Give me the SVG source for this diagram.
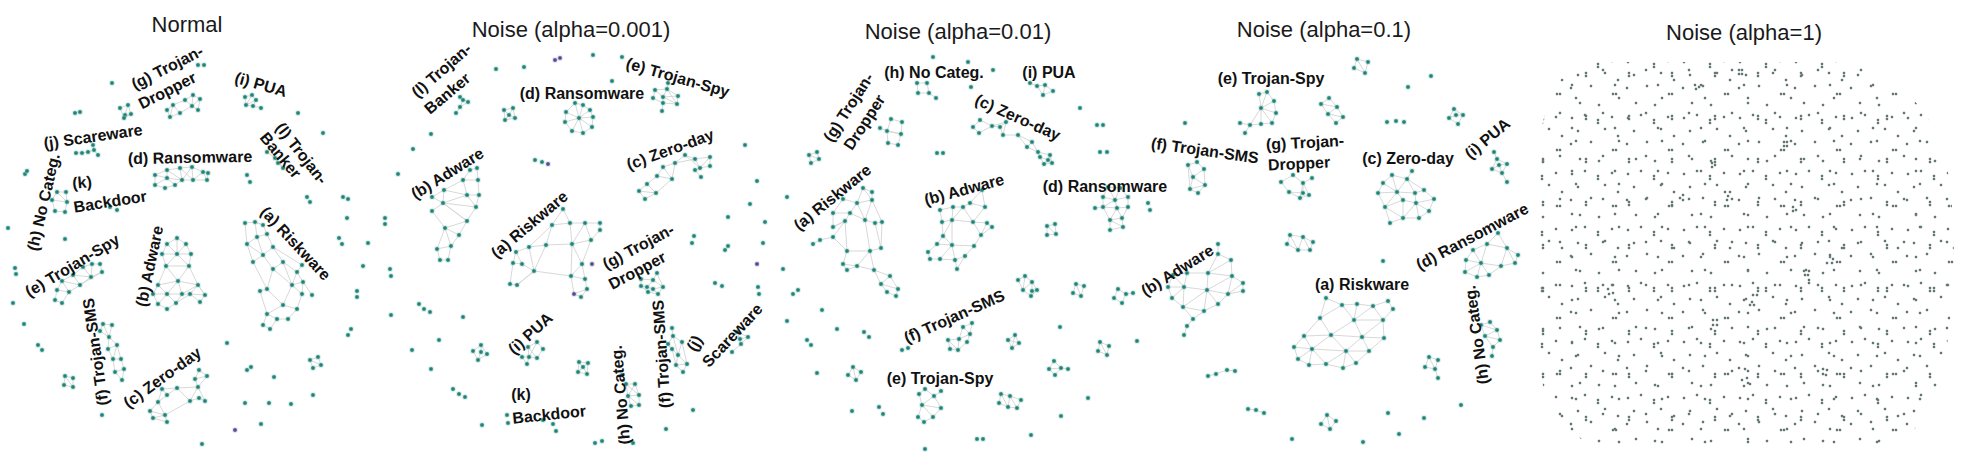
<svg xmlns="http://www.w3.org/2000/svg" width="1961" height="463" viewBox="0 0 1961 463">
<style>
.t{font-family:"Liberation Sans",Arial,sans-serif;font-size:22px;fill:#1a1a1a;text-anchor:middle}
.l{font-family:"Liberation Sans",Arial,sans-serif;font-size:16px;font-weight:bold;fill:#111;text-anchor:middle}
.e path{fill:none;stroke:#d4d4d4;stroke-width:0.9}
.n circle{r:2;fill:#1b7c71;stroke:#7cc4ba;stroke-opacity:.28;stroke-width:2.2}
.n circle.v{fill:#4a4488;stroke:#a9a4d6}
.d circle{r:1.25;fill:#4f6361;stroke:#9fb3b0;stroke-opacity:.3;stroke-width:1}
</style>
<defs>
<pattern id="pA" patternUnits="userSpaceOnUse" width="56" height="56">
<g class="d"><circle cx="4" cy="6"/><circle cx="17" cy="3"/><circle cx="30" cy="8"/><circle cx="30" cy="11"/><circle cx="44" cy="5"/><circle cx="10" cy="19"/><circle cx="37" cy="17"/><circle cx="50" cy="24"/><circle cx="3" cy="32"/><circle cx="23" cy="30"/><circle cx="45" cy="38"/><circle cx="48" cy="38"/><circle cx="12" cy="47"/><circle cx="31" cy="49"/></g>
</pattern>
<pattern id="pB" patternUnits="userSpaceOnUse" width="43" height="43" x="7" y="3">
<g class="d"><circle cx="21" cy="9"/><circle cx="5" cy="24"/><circle cx="31" cy="27"/><circle cx="31" cy="30"/><circle cx="17" cy="39"/></g>
</pattern>
</defs>
<rect width="1961" height="463" fill="#fff"/>

<!-- titles -->
<g id="titles">
<text class="t" x="187" y="32">Normal</text>
<text class="t" x="571" y="37">Noise (alpha=0.001)</text>
<text class="t" x="958" y="39">Noise (alpha=0.01)</text>
<text class="t" x="1324" y="37">Noise (alpha=0.1)</text>
<text class="t" x="1744" y="40">Noise (alpha=1)</text>
</g>

<!-- ================= PANEL 1 : Normal ================= -->
<g id="p1-edges" class="e">
<path d="M173,105L185,100L193,95L200,99L192,106L198,110M185,100L192,106L193,95M200,99L198,110M173,105L180,113L192,106M180,113L170,117L167,110L173,105L170,117"/>
<path d="M120,108L128,105L131,114L124,118L120,108M128,105L125,115L131,114M125,115L124,118"/>
<path d="M245,97L252,95L256,100L246,105L245,97M252,95L246,105M256,100L253,106L261,108M246,105L253,106"/>
<path d="M76,153L82,153L88,152L94,150L98,155M94,150L93,145"/>
<path d="M155,175L167,170L180,168L192,167L203,172L208,173L207,180L193,180L182,180L175,185L165,188L155,185L155,175M167,170L167,178L155,185M155,175L167,178L175,185M167,178L182,180L180,168M167,170L182,180M192,167L193,180L203,172L207,180M180,168L193,180M192,167L182,180"/>
<path d="M57,192L66,192L67,202L65,212L55,211L52,200L57,192M52,200L67,202M57,192L67,202"/>
<path d="M267,152L275,158L278,163L283,168M275,158L283,168"/>
<path d="M245,223L255,222L263,225M245,223L247,244L257,237L267,234L263,225L255,222L257,237M247,244L263,255L257,237M267,234L273,247L263,255L253,262L247,244M273,247L283,262L273,269L263,255M273,247L302,265L297,272L283,262M253,262L267,289L273,269M283,262L292,285L297,272L303,282L292,285L302,294L303,282M267,289L260,291L267,314L283,305L292,285M283,305L297,309L302,294M267,314L277,319L288,319L297,309M267,314L263,325L270,329L277,319M267,289L283,305M303,282L312,295M273,269L292,285"/>
<path d="M177,238L167,244L162,254L166,266L158,285L153,294L158,304L167,309L176,303L190,294L200,302L205,295L198,285L189,266L191,254L186,244L177,238L177,254L162,254M167,244L177,254L186,244M177,254L191,254M177,254L166,266L178,281L189,266L177,254M166,266L189,266M178,281L158,285L167,294L178,281L182,294L198,285L178,281M153,294L167,294L182,294L190,294L198,285M167,294L158,304M167,294L176,303L182,294M190,294L205,295M198,285L205,295"/>
<path d="M92,264L100,264L102,272L91,277L83,267L92,264L91,277M83,267L73,275L62,281L57,290L55,300L62,303L69,292L80,285L91,277M73,275L80,285L62,281L69,292L57,290M102,272L80,285M73,275L91,277"/>
<path d="M103,324L112,325L109,337L100,331L103,324L109,337L117,345L108,349L109,337M108,349L113,359L117,345L121,359L113,359L115,372L124,369L121,359M115,372L122,380L124,369"/>
<path d="M199,370L207,376L195,379L199,370M195,379L198,387L207,376M198,387L177,388L162,389L167,395L158,402L150,411L153,418L167,422L165,415L158,402M177,388L167,395M198,387L190,401L199,398L205,401L198,387M190,401L165,415M150,411L165,415M153,418L165,415M162,389L158,402M177,388L190,401"/>
<path d="M65,376L73,378L73,387L64,385L65,376L73,387"/>
<path d="M310,360L318,357L321,365L313,368L310,360L321,365"/>
</g>
<g id="p1-nodes" class="n">
<g id="p1-dropper"><circle cx="173" cy="105"/><circle cx="185" cy="100"/><circle cx="193" cy="95"/><circle cx="200" cy="99"/><circle cx="192" cy="106"/><circle cx="198" cy="110"/><circle cx="180" cy="113"/><circle cx="170" cy="117"/><circle cx="167" cy="110"/></g>
<g id="p1-small1"><circle cx="120" cy="108"/><circle cx="128" cy="105"/><circle cx="125" cy="115"/><circle cx="131" cy="114"/><circle cx="124" cy="118"/></g>
<g id="p1-pua"><circle cx="245" cy="97"/><circle cx="252" cy="95"/><circle cx="256" cy="100"/><circle cx="246" cy="105"/><circle cx="253" cy="106"/><circle cx="261" cy="108"/></g>
<g id="p1-scareware"><circle cx="76" cy="153"/><circle cx="82" cy="153"/><circle cx="88" cy="152"/><circle cx="94" cy="150"/><circle cx="98" cy="155"/><circle cx="93" cy="145"/></g>
<g id="p1-ransomware"><circle cx="155" cy="175"/><circle cx="167" cy="170"/><circle cx="180" cy="168"/><circle cx="192" cy="167"/><circle cx="203" cy="172"/><circle cx="208" cy="173"/><circle cx="193" cy="180"/><circle cx="207" cy="180"/><circle cx="167" cy="178"/><circle cx="155" cy="185"/><circle cx="165" cy="188"/><circle cx="175" cy="185"/><circle cx="182" cy="180"/></g>
<g id="p1-backdoor"><circle cx="57" cy="192"/><circle cx="66" cy="192"/><circle cx="52" cy="200"/><circle cx="67" cy="202"/><circle cx="55" cy="211"/><circle cx="65" cy="212"/></g>
<g id="p1-banker"><circle cx="267" cy="152"/><circle cx="275" cy="158"/><circle cx="278" cy="163"/><circle cx="283" cy="168"/></g>
<g id="p1-riskware"><circle cx="245" cy="223"/><circle cx="255" cy="222"/><circle cx="263" cy="225"/><circle cx="247" cy="244"/><circle cx="257" cy="237"/><circle cx="267" cy="234"/><circle cx="273" cy="247"/><circle cx="263" cy="255"/><circle cx="253" cy="262"/><circle cx="273" cy="269"/><circle cx="283" cy="262"/><circle cx="297" cy="272"/><circle cx="303" cy="282"/><circle cx="292" cy="285"/><circle cx="302" cy="294"/><circle cx="267" cy="289"/><circle cx="260" cy="291"/><circle cx="283" cy="305"/><circle cx="297" cy="309"/><circle cx="267" cy="314"/><circle cx="277" cy="319"/><circle cx="288" cy="319"/><circle cx="263" cy="325"/><circle cx="270" cy="329"/><circle cx="312" cy="295"/><circle cx="302" cy="265"/></g>
<g id="p1-adware"><circle cx="177" cy="238"/><circle cx="167" cy="244"/><circle cx="186" cy="244"/><circle cx="162" cy="254"/><circle cx="177" cy="254"/><circle cx="191" cy="254"/><circle cx="166" cy="266"/><circle cx="189" cy="266"/><circle cx="158" cy="285"/><circle cx="178" cy="281"/><circle cx="198" cy="285"/><circle cx="153" cy="294"/><circle cx="167" cy="294"/><circle cx="182" cy="294"/><circle cx="190" cy="294"/><circle cx="205" cy="295"/><circle cx="158" cy="304"/><circle cx="176" cy="303"/><circle cx="167" cy="309"/><circle cx="200" cy="302"/></g>
<g id="p1-spy"><circle cx="92" cy="264"/><circle cx="100" cy="264"/><circle cx="83" cy="267"/><circle cx="102" cy="272"/><circle cx="73" cy="275"/><circle cx="91" cy="277"/><circle cx="62" cy="281"/><circle cx="80" cy="285"/><circle cx="57" cy="290"/><circle cx="69" cy="292"/><circle cx="55" cy="300"/><circle cx="62" cy="303"/></g>
<g id="p1-sms"><circle cx="103" cy="324"/><circle cx="112" cy="325"/><circle cx="100" cy="331"/><circle cx="109" cy="337"/><circle cx="117" cy="345"/><circle cx="108" cy="349"/><circle cx="113" cy="359"/><circle cx="121" cy="359"/><circle cx="115" cy="372"/><circle cx="124" cy="369"/><circle cx="122" cy="380"/></g>
<g id="p1-zeroday"><circle cx="199" cy="370"/><circle cx="207" cy="376"/><circle cx="195" cy="379"/><circle cx="198" cy="387"/><circle cx="177" cy="388"/><circle cx="162" cy="389"/><circle cx="167" cy="395"/><circle cx="190" cy="401"/><circle cx="199" cy="398"/><circle cx="205" cy="401"/><circle cx="158" cy="402"/><circle cx="150" cy="411"/><circle cx="165" cy="415"/><circle cx="153" cy="418"/><circle cx="167" cy="422"/></g>
<g id="p1-small2"><circle cx="65" cy="376"/><circle cx="73" cy="378"/><circle cx="64" cy="385"/><circle cx="73" cy="387"/></g>
<g id="p1-small3"><circle cx="310" cy="360"/><circle cx="318" cy="357"/><circle cx="321" cy="365"/><circle cx="313" cy="368"/></g>
<g id="p1-singles"><circle cx="112" cy="83"/><circle cx="75" cy="113"/><circle cx="80" cy="112"/><circle cx="198" cy="65"/><circle cx="204" cy="65"/><circle cx="298" cy="113"/><circle cx="323" cy="133"/><circle cx="247" cy="175"/><circle cx="250" cy="182"/><circle cx="307" cy="197"/><circle cx="310" cy="202"/><circle cx="343" cy="197"/><circle cx="348" cy="199"/><circle cx="347" cy="218"/><circle cx="25" cy="174"/><circle cx="27" cy="171"/><circle cx="8" cy="228"/><circle cx="65" cy="239"/><circle cx="15" cy="268"/><circle cx="16" cy="274"/><circle cx="13" cy="303"/><circle cx="24" cy="324"/><circle cx="38" cy="345"/><circle cx="42" cy="350"/><circle cx="102" cy="415"/><circle cx="227" cy="343"/><circle cx="247" cy="370"/><circle cx="251" cy="367"/><circle cx="274" cy="377"/><circle cx="245" cy="403"/><circle cx="269" cy="403"/><circle cx="291" cy="404"/><circle cx="313" cy="395"/><circle cx="261" cy="424"/><circle cx="235" cy="430" class="v"/><circle cx="202" cy="444"/><circle cx="339" cy="238"/><circle cx="342" cy="244"/><circle cx="368" cy="243"/><circle cx="363" cy="266"/><circle cx="357" cy="291"/><circle cx="357" cy="297"/><circle cx="351" cy="329"/><circle cx="348" cy="335"/><circle cx="110" cy="207"/><circle cx="117" cy="210"/></g>
</g>
<g id="p1-labels">
<text class="l" transform="translate(167,67) rotate(-27)" y="6">(g) Trojan-</text>
<text class="l" transform="translate(167,90) rotate(-27)" y="6">Dropper</text>
<text class="l" transform="translate(261,84) rotate(16)" y="6">(i) PUA</text>
<text class="l" transform="translate(302,153) rotate(52)" y="6">(l) Trojan-</text>
<text class="l" transform="translate(281,155) rotate(50)" y="6">Banker</text>
<text class="l" transform="translate(93,136) rotate(-8)" y="6">(j) Scareware</text>
<text class="l" transform="translate(190,157) rotate(-1)" y="6">(d) Ransomware</text>
<text class="l" transform="translate(43,202) rotate(-77)" y="6">(h) No Categ.</text>
<text class="l" transform="translate(82,182) rotate(-5)" y="6">(k)</text>
<text class="l" transform="translate(110,201) rotate(-9)" y="6">Backdoor</text>
<text class="l" transform="translate(296,243) rotate(47)" y="6">(a) Riskware</text>
<text class="l" transform="translate(72,265) rotate(-31)" y="6">(e) Trojan-Spy</text>
<text class="l" transform="translate(149,266) rotate(-78)" y="6">(b) Adware</text>
<text class="l" transform="translate(95,352) rotate(-98)" y="6">(f) Trojan-SMS</text>
<text class="l" transform="translate(162,377) rotate(-36)" y="6">(c) Zero-day</text>
</g>

<!-- ================= PANEL 2 : alpha=0.001 ================= -->
<g id="p2-edges" class="e">
<path d="M460,97L468,102L460,107L456,113M460,97L463,100L460,107"/>
<path d="M504,110L513,108L515,118L505,120L504,110M504,110L509,115L515,118M513,108L509,115L505,120"/>
<path d="M575,103L583,105L590,110L593,117L592,127L583,133L572,131L565,122L566,112L575,103M579,118L575,103M579,118L590,110M579,118L593,117M579,118L583,133M579,118L565,122M579,118L566,112M579,118L592,127M579,118L572,131M579,118L583,105"/>
<path d="M655,90L667,89L678,96L677,104L663,103L653,98L655,90L663,97L667,89M668,83L667,89M663,97L678,96M663,97L663,103L662,111M667,89L677,104M663,97L677,104"/>
<path d="M685,155L695,159L710,157L710,166L700,168L695,159M685,155L675,163L663,167L657,176L647,184L639,191L645,199L656,193L647,184M675,163L672,179L657,176M663,167L672,179M685,155L700,168M695,159L675,163M695,170L701,177M700,168L695,170M656,193L639,191M672,179L656,193M710,157L700,168"/>
<path d="M477,168L470,170L463,180L478,180L477,168M463,180L444,190L432,197L443,203L444,190L467,195L463,180M467,195L479,195L478,180M443,203L432,211L445,228L467,221L476,207L479,195M443,203L467,195L476,207L443,203L467,221L443,203M445,228L437,249L451,246L459,235L467,221M445,228L451,246M437,249L440,260L448,260L451,246M445,228L459,235"/>
<path d="M563,209L552,225L570,223L563,209M570,223L585,223L600,223L600,230M552,225L546,245L529,247L516,252L513,263L510,284L517,285L534,271L522,264L513,263M546,245L572,244L591,240L600,230M570,223L572,244L585,223L591,240M529,247L534,271L546,245M522,264L516,252M534,271L571,276L572,244M571,276L582,264L591,240M582,264L585,279L571,276L574,294L587,289L585,279M574,294L581,297L587,289M517,285L534,271M552,225L529,247M572,244L582,264"/>
<path d="M473,351L481,345L487,354L478,360L473,351M481,345L481,352L478,360"/>
<path d="M528,347L537,342L543,349L537,358L529,357L522,357L527,364L529,357L528,347L537,358M537,342L529,357"/>
<path d="M579,362L588,363L587,374L578,372L579,362M579,362L583,367L587,374M588,363L583,367L578,372"/>
<path d="M622,375L626,384L635,384L639,395L628,396L626,384M635,384L628,396L631,406L639,405L639,395M628,396L639,405M626,384L639,395"/>
<path d="M657,273L653,280L641,279L641,286L648,292L658,294L663,287L653,280L647,287L641,286M647,287L653,289L658,294M653,289L663,287M657,273L663,287"/>
<path d="M672,328L673,336L682,342L678,355L672,349L668,344L673,336M673,336L678,355L687,364L683,372L676,365L678,355M676,365L687,364M682,342L687,364M672,349L676,365"/>
<path d="M737,332L748,337L741,344L732,352M737,332L740,339L741,344M740,339L748,337"/>
</g>
<g id="p2-nodes" class="n">
<g id="p2-banker"><circle cx="460" cy="97"/><circle cx="468" cy="102"/><circle cx="460" cy="107"/><circle cx="456" cy="113"/><circle cx="463" cy="100"/></g>
<g id="p2-small1"><circle cx="504" cy="110"/><circle cx="513" cy="108"/><circle cx="505" cy="120"/><circle cx="515" cy="118"/><circle cx="509" cy="115"/></g>
<g id="p2-ransomware"><circle cx="575" cy="103"/><circle cx="583" cy="105"/><circle cx="590" cy="110"/><circle cx="593" cy="117"/><circle cx="592" cy="127"/><circle cx="583" cy="133"/><circle cx="572" cy="131"/><circle cx="565" cy="122"/><circle cx="566" cy="112"/><circle cx="579" cy="118"/></g>
<g id="p2-spy"><circle cx="655" cy="90"/><circle cx="667" cy="89"/><circle cx="668" cy="83"/><circle cx="678" cy="96"/><circle cx="663" cy="97"/><circle cx="653" cy="98"/><circle cx="663" cy="103"/><circle cx="677" cy="104"/><circle cx="662" cy="111"/></g>
<g id="p2-zeroday"><circle cx="685" cy="155"/><circle cx="710" cy="157"/><circle cx="695" cy="159"/><circle cx="710" cy="166"/><circle cx="700" cy="168"/><circle cx="675" cy="163"/><circle cx="663" cy="167"/><circle cx="657" cy="176"/><circle cx="672" cy="179"/><circle cx="647" cy="184"/><circle cx="656" cy="193"/><circle cx="639" cy="191"/><circle cx="645" cy="199"/><circle cx="701" cy="177"/><circle cx="695" cy="170"/></g>
<g id="p2-adware"><circle cx="477" cy="168"/><circle cx="470" cy="170"/><circle cx="463" cy="180"/><circle cx="478" cy="180"/><circle cx="444" cy="190"/><circle cx="467" cy="195"/><circle cx="479" cy="195"/><circle cx="432" cy="197"/><circle cx="443" cy="203"/><circle cx="476" cy="207"/><circle cx="432" cy="211"/><circle cx="467" cy="221"/><circle cx="445" cy="228"/><circle cx="437" cy="249"/><circle cx="451" cy="246"/><circle cx="459" cy="235"/><circle cx="440" cy="260"/><circle cx="448" cy="260"/></g>
<g id="p2-riskware"><circle cx="563" cy="209"/><circle cx="552" cy="225"/><circle cx="570" cy="223"/><circle cx="585" cy="223"/><circle cx="600" cy="223"/><circle cx="600" cy="230"/><circle cx="529" cy="247"/><circle cx="546" cy="245"/><circle cx="572" cy="244"/><circle cx="591" cy="240"/><circle cx="516" cy="252"/><circle cx="513" cy="263"/><circle cx="522" cy="264"/><circle cx="534" cy="271"/><circle cx="510" cy="284"/><circle cx="517" cy="285"/><circle cx="571" cy="276"/><circle cx="582" cy="264"/><circle cx="585" cy="279"/><circle cx="587" cy="289"/><circle cx="574" cy="294" class="v"/><circle cx="581" cy="297"/></g>
<g id="p2-small2"><circle cx="473" cy="351"/><circle cx="481" cy="345"/><circle cx="487" cy="354"/><circle cx="478" cy="360"/><circle cx="481" cy="352"/></g>
<g id="p2-pua"><circle cx="528" cy="347"/><circle cx="537" cy="342"/><circle cx="543" cy="349"/><circle cx="522" cy="357"/><circle cx="529" cy="357"/><circle cx="537" cy="358"/><circle cx="527" cy="364"/></g>
<g id="p2-small3"><circle cx="579" cy="362"/><circle cx="588" cy="363"/><circle cx="578" cy="372"/><circle cx="587" cy="374"/><circle cx="583" cy="367"/></g>
<g id="p2-nocateg"><circle cx="622" cy="375"/><circle cx="626" cy="384"/><circle cx="635" cy="384"/><circle cx="639" cy="395"/><circle cx="628" cy="396"/><circle cx="631" cy="406"/><circle cx="639" cy="405"/></g>
<g id="p2-dropper"><circle cx="657" cy="273"/><circle cx="641" cy="279"/><circle cx="653" cy="280"/><circle cx="647" cy="287"/><circle cx="663" cy="287"/><circle cx="641" cy="286"/><circle cx="648" cy="292"/><circle cx="658" cy="294"/><circle cx="653" cy="289"/></g>
<g id="p2-sms"><circle cx="672" cy="328"/><circle cx="673" cy="336"/><circle cx="682" cy="342"/><circle cx="668" cy="344"/><circle cx="678" cy="355"/><circle cx="687" cy="364"/><circle cx="676" cy="365"/><circle cx="683" cy="372"/><circle cx="672" cy="349"/></g>
<g id="p2-scareware"><circle cx="737" cy="332"/><circle cx="748" cy="337"/><circle cx="741" cy="344"/><circle cx="732" cy="352"/><circle cx="740" cy="339"/></g>
<g id="p2-singles"><circle cx="496" cy="69"/><circle cx="524" cy="67"/><circle cx="555" cy="60" class="v"/><circle cx="560" cy="58" class="v"/><circle cx="593" cy="55"/><circle cx="622" cy="57"/><circle cx="612" cy="81"/><circle cx="431" cy="134"/><circle cx="413" cy="149"/><circle cx="535" cy="160"/><circle cx="542" cy="162"/><circle cx="548" cy="164" class="v"/><circle cx="398" cy="174"/><circle cx="385" cy="218"/><circle cx="385" cy="224"/><circle cx="745" cy="145"/><circle cx="757" cy="181"/><circle cx="750" cy="204"/><circle cx="728" cy="217"/><circle cx="765" cy="222"/><circle cx="390" cy="269"/><circle cx="391" cy="276"/><circle cx="419" cy="304"/><circle cx="424" cy="309"/><circle cx="430" cy="312"/><circle cx="391" cy="315"/><circle cx="463" cy="317"/><circle cx="439" cy="340"/><circle cx="412" cy="350"/><circle cx="431" cy="369"/><circle cx="453" cy="389"/><circle cx="459" cy="394"/><circle cx="465" cy="397"/><circle cx="482" cy="425"/><circle cx="507" cy="415"/><circle cx="508" cy="423"/><circle cx="543" cy="420"/><circle cx="553" cy="424"/><circle cx="556" cy="431"/><circle cx="595" cy="443"/><circle cx="602" cy="441"/><circle cx="633" cy="443"/><circle cx="715" cy="283"/><circle cx="722" cy="286"/><circle cx="758" cy="287"/><circle cx="759" cy="294"/><circle cx="694" cy="236"/><circle cx="692" cy="243"/><circle cx="728" cy="246"/><circle cx="725" cy="250"/><circle cx="757" cy="264" class="v"/><circle cx="763" cy="243"/><circle cx="693" cy="410"/><circle cx="666" cy="429"/><circle cx="592" cy="264" class="v"/></g>
</g>
<g id="p2-labels">
<text class="l" transform="translate(441,70) rotate(-41)" y="6">(l) Trojan-</text>
<text class="l" transform="translate(447,93) rotate(-40)" y="6">Banker</text>
<text class="l" transform="translate(678,77) rotate(16)" y="6">(e) Trojan-Spy</text>
<text class="l" transform="translate(582,93)" y="6">(d) Ransomware</text>
<text class="l" transform="translate(447,173) rotate(-32)" y="6">(b) Adware</text>
<text class="l" transform="translate(670,149) rotate(-20)" y="6">(c) Zero-day</text>
<text class="l" transform="translate(529,224) rotate(-40)" y="6">(a) Riskware</text>
<text class="l" transform="translate(638,246) rotate(-28)" y="6">(g) Trojan-</text>
<text class="l" transform="translate(637,270) rotate(-28)" y="6">Dropper</text>
<text class="l" transform="translate(530,333) rotate(-42)" y="6">(i) PUA</text>
<text class="l" transform="translate(521,394)" y="6">(k)</text>
<text class="l" transform="translate(549,414) rotate(-6)" y="6">Backdoor</text>
<text class="l" transform="translate(620,395) rotate(-95)" y="6">(h) No Categ.</text>
<text class="l" transform="translate(661,354) rotate(-94)" y="6">(f) Trojan-SMS</text>
<text class="l" transform="translate(694,343) rotate(-60)" y="6">(j)</text>
<text class="l" transform="translate(732,335) rotate(-47)" y="6">Scareware</text>
</g>

<!-- ================= PANEL 3 : alpha=0.01 ================= -->
<g id="p3-edges" class="e">
<path d="M917,83L927,83L929,93L918,93L917,83M929,93L936,98"/>
<path d="M1030,83L1037,86L1045,85L1053,91L1043,95L1037,86M1045,85L1043,95"/>
<path d="M891,119L902,122L901,134L887,131L891,119M880,128L887,131L888,143L898,145L901,134M887,131L901,134"/>
<path d="M809,155L817,152L819,159L811,163L809,155L819,159"/>
<path d="M980,120L992,126L979,133L973,127L980,120M992,126L1006,122L1000,127L992,126M1000,127L1003,135L1018,135L1027,147L1032,142L1018,135M1027,147L1038,152L1032,142M1038,152L1050,155L1052,163L1044,164L1040,157L1038,152M1040,157L1048,160L1050,155M1044,164L1048,160M1003,135L1006,122"/>
<path d="M863,188L872,192L872,200L863,188L857,203L843,199L833,213L850,213L857,203L872,200L865,220L850,213L845,221L833,227L833,213M845,221L833,237L820,240L813,244M845,221L847,251L833,237M865,220L875,223L882,222L872,200M865,220L870,251L847,251M870,251L881,248L882,222M875,223L881,248M847,251L843,264L857,266L870,251M857,266L874,270L870,251M847,270L857,266M843,264L847,270M874,270L890,276L881,284L874,270M881,284L898,289L890,276M881,284L887,292L896,296L898,289M857,203L865,220M833,227L845,221"/>
<path d="M982,190L970,203L985,207L982,190M970,203L963,207L953,207L940,210L942,222L952,220L953,207M963,207L973,222L985,207M952,220L973,222L987,223L992,227L981,235L987,223M973,222L981,235L974,246L952,245L943,236L942,222M943,236L952,220L952,245M974,246L965,256L955,260L952,245L937,244L943,236M937,244L928,252L930,259L940,259L952,245M955,260L957,269L965,256M940,259L955,260M963,207L952,220"/>
<path d="M1108,187L1120,188L1128,197L1128,207L1122,218L1123,227L1110,230L1110,220L1103,207L1103,197L1108,187L1115,200L1120,188M1103,197L1115,200L1128,197M1115,200L1117,208L1128,207M1103,207L1117,208L1110,220L1122,218L1117,208M1095,208L1103,207M1110,220L1123,227M1115,200L1103,207"/>
<path d="M1047,226L1055,224L1056,234L1047,235L1047,226L1056,234"/>
<path d="M1025,276L1032,282L1037,290L1031,296L1023,290L1018,280L1025,276L1023,290L1032,282L1032,291M1032,291L1037,290"/>
<path d="M1076,284L1084,286L1081,296L1073,293L1076,284L1081,296"/>
<path d="M1118,289L1114,298L1122,303L1126,294L1118,289M1126,294L1133,293"/>
<path d="M972,323L963,327L959,339L948,340L950,349L958,350L959,339L970,334L972,323M963,327L970,334L967,342L958,350M948,340L958,350"/>
<path d="M1015,335L1008,340L1012,348L1019,343L1015,335L1012,348M1008,340L1019,343"/>
<path d="M1100,342L1109,346L1107,355L1098,351L1100,342L1107,355"/>
<path d="M1054,361L1049,369L1055,375L1061,368L1054,361M1049,369L1061,368L1068,369"/>
<path d="M853,367L848,375L856,380L861,372L853,367L856,380"/>
<path d="M925,389L934,396L941,391M925,389L919,394L922,405L934,396L941,408L933,417L924,422L918,417L922,405L933,417M922,405L941,408"/>
<path d="M1001,394L1010,396L1021,400L1017,408L1008,407L999,403L1001,394L1008,407L1010,396L1017,408"/>
</g>
<g id="p3-nodes" class="n">
<g id="p3-nocateg"><circle cx="917" cy="83"/><circle cx="927" cy="83"/><circle cx="918" cy="93"/><circle cx="929" cy="93"/><circle cx="936" cy="98"/></g>
<g id="p3-pua"><circle cx="1030" cy="83"/><circle cx="1037" cy="86"/><circle cx="1045" cy="85"/><circle cx="1053" cy="91"/><circle cx="1043" cy="95"/></g>
<g id="p3-dropper"><circle cx="891" cy="119"/><circle cx="902" cy="122"/><circle cx="887" cy="131"/><circle cx="901" cy="134"/><circle cx="880" cy="128"/><circle cx="888" cy="143"/><circle cx="898" cy="145"/></g>
<g id="p3-small1"><circle cx="809" cy="155"/><circle cx="817" cy="152"/><circle cx="819" cy="159"/><circle cx="811" cy="163"/></g>
<g id="p3-zeroday"><circle cx="980" cy="120"/><circle cx="992" cy="126"/><circle cx="973" cy="127"/><circle cx="979" cy="133"/><circle cx="1006" cy="122"/><circle cx="1000" cy="127"/><circle cx="1003" cy="135"/><circle cx="1018" cy="135"/><circle cx="1027" cy="147"/><circle cx="1032" cy="142"/><circle cx="1038" cy="152"/><circle cx="1050" cy="155"/><circle cx="1052" cy="163"/><circle cx="1044" cy="164"/><circle cx="1040" cy="157"/><circle cx="1048" cy="160"/></g>
<g id="p3-riskware"><circle cx="863" cy="188"/><circle cx="872" cy="192"/><circle cx="843" cy="199"/><circle cx="872" cy="200"/><circle cx="833" cy="213"/><circle cx="850" cy="213"/><circle cx="857" cy="203"/><circle cx="845" cy="221"/><circle cx="865" cy="220"/><circle cx="875" cy="223"/><circle cx="882" cy="222"/><circle cx="833" cy="227"/><circle cx="833" cy="237"/><circle cx="820" cy="240"/><circle cx="813" cy="244"/><circle cx="847" cy="251"/><circle cx="870" cy="251"/><circle cx="881" cy="248"/><circle cx="843" cy="264"/><circle cx="857" cy="266"/><circle cx="874" cy="270"/><circle cx="847" cy="270"/><circle cx="890" cy="276"/><circle cx="881" cy="284"/><circle cx="898" cy="289"/><circle cx="887" cy="292"/><circle cx="896" cy="296"/></g>
<g id="p3-adware"><circle cx="982" cy="190"/><circle cx="970" cy="203"/><circle cx="985" cy="207"/><circle cx="940" cy="210"/><circle cx="953" cy="207"/><circle cx="963" cy="207"/><circle cx="952" cy="220"/><circle cx="973" cy="222"/><circle cx="987" cy="223"/><circle cx="992" cy="227"/><circle cx="942" cy="222"/><circle cx="937" cy="244"/><circle cx="952" cy="245"/><circle cx="974" cy="246"/><circle cx="981" cy="235"/><circle cx="928" cy="252"/><circle cx="930" cy="259"/><circle cx="940" cy="259"/><circle cx="955" cy="260"/><circle cx="965" cy="256"/><circle cx="943" cy="236"/><circle cx="957" cy="269"/></g>
<g id="p3-ransomware"><circle cx="1108" cy="187"/><circle cx="1120" cy="188"/><circle cx="1103" cy="197"/><circle cx="1115" cy="200"/><circle cx="1128" cy="197"/><circle cx="1095" cy="208"/><circle cx="1103" cy="207"/><circle cx="1117" cy="208"/><circle cx="1128" cy="207"/><circle cx="1110" cy="220"/><circle cx="1122" cy="218"/><circle cx="1123" cy="227"/><circle cx="1110" cy="230"/></g>
<g id="p3-small2"><circle cx="1047" cy="226"/><circle cx="1055" cy="224"/><circle cx="1047" cy="235"/><circle cx="1056" cy="234"/></g>
<g id="p3-small3"><circle cx="1025" cy="276"/><circle cx="1018" cy="280"/><circle cx="1032" cy="282"/><circle cx="1023" cy="290"/><circle cx="1032" cy="291"/><circle cx="1037" cy="290"/><circle cx="1031" cy="296"/></g>
<g id="p3-small4"><circle cx="1076" cy="284"/><circle cx="1084" cy="286"/><circle cx="1073" cy="293"/><circle cx="1081" cy="296"/></g>
<g id="p3-small5"><circle cx="1118" cy="289"/><circle cx="1114" cy="298"/><circle cx="1126" cy="294"/><circle cx="1133" cy="293"/><circle cx="1122" cy="303"/></g>
<g id="p3-sms"><circle cx="972" cy="323"/><circle cx="963" cy="327"/><circle cx="970" cy="334"/><circle cx="959" cy="339"/><circle cx="948" cy="340"/><circle cx="950" cy="349"/><circle cx="958" cy="350"/><circle cx="967" cy="342"/></g>
<g id="p3-small6"><circle cx="1015" cy="335"/><circle cx="1008" cy="340"/><circle cx="1019" cy="343"/><circle cx="1012" cy="348"/></g>
<g id="p3-small7"><circle cx="1100" cy="342"/><circle cx="1109" cy="346"/><circle cx="1098" cy="351"/><circle cx="1107" cy="355"/></g>
<g id="p3-small8"><circle cx="1054" cy="361"/><circle cx="1049" cy="369"/><circle cx="1061" cy="368"/><circle cx="1068" cy="369"/><circle cx="1055" cy="375"/></g>
<g id="p3-small9"><circle cx="853" cy="367"/><circle cx="848" cy="375"/><circle cx="861" cy="372"/><circle cx="856" cy="380"/></g>
<g id="p3-spy"><circle cx="925" cy="389"/><circle cx="934" cy="396"/><circle cx="941" cy="391"/><circle cx="919" cy="394"/><circle cx="922" cy="405"/><circle cx="941" cy="408"/><circle cx="918" cy="417"/><circle cx="933" cy="417"/><circle cx="924" cy="422"/></g>
<g id="p3-small10"><circle cx="1001" cy="394"/><circle cx="1010" cy="396"/><circle cx="1021" cy="400"/><circle cx="999" cy="403"/><circle cx="1008" cy="407"/><circle cx="1017" cy="408"/></g>
<g id="p3-singles"><circle cx="933" cy="57"/><circle cx="968" cy="62"/><circle cx="993" cy="70"/><circle cx="971" cy="87"/><circle cx="937" cy="153"/><circle cx="943" cy="153"/><circle cx="1097" cy="125"/><circle cx="1103" cy="125"/><circle cx="1100" cy="152"/><circle cx="1107" cy="152"/><circle cx="1080" cy="108"/><circle cx="1148" cy="203"/><circle cx="1150" cy="210"/><circle cx="787" cy="197"/><circle cx="783" cy="269"/><circle cx="793" cy="294"/><circle cx="798" cy="290"/><circle cx="822" cy="310"/><circle cx="787" cy="321"/><circle cx="837" cy="329"/><circle cx="864" cy="332"/><circle cx="869" cy="337"/><circle cx="807" cy="340"/><circle cx="811" cy="345"/><circle cx="902" cy="350"/><circle cx="908" cy="348"/><circle cx="817" cy="373"/><circle cx="1060" cy="327"/><circle cx="1137" cy="341"/><circle cx="852" cy="411"/><circle cx="879" cy="407"/><circle cx="883" cy="414"/><circle cx="1088" cy="398"/><circle cx="1061" cy="416"/><circle cx="1031" cy="435"/><circle cx="977" cy="439"/><circle cx="983" cy="439"/><circle cx="925" cy="449"/></g>
</g>
<g id="p3-labels">
<text class="l" transform="translate(848,107) rotate(-57)" y="6">(g) Trojan-</text>
<text class="l" transform="translate(864,122) rotate(-57)" y="6">Dropper</text>
<text class="l" transform="translate(934,72)" y="6">(h) No Categ.</text>
<text class="l" transform="translate(1049,72)" y="6">(i) PUA</text>
<text class="l" transform="translate(1018,117) rotate(24)" y="6">(c) Zero-day</text>
<text class="l" transform="translate(832,197) rotate(-39)" y="6">(a) Riskware</text>
<text class="l" transform="translate(964,189) rotate(-15)" y="6">(b) Adware</text>
<text class="l" transform="translate(1105,186)" y="6">(d) Ransomware</text>
<text class="l" transform="translate(954,316) rotate(-24)" y="6">(f) Trojan-SMS</text>
<text class="l" transform="translate(940,378)" y="6">(e) Trojan-Spy</text>
</g>

<!-- ================= PANEL 4 : alpha=0.1 ================= -->
<g id="p4-edges" class="e">
<path d="M1357,59L1368,62L1365,73L1354,68L1357,59L1365,73"/>
<path d="M1259,94L1267,92L1274,101L1276,113L1272,123L1261,124L1250,125L1240,123M1259,94L1261,108L1267,92M1261,108L1274,101M1261,108L1276,113M1261,108L1261,124M1261,108L1250,125M1261,108L1272,123M1250,125L1245,133"/>
<path d="M1329,98L1321,104L1328,114L1337,107L1329,98M1321,104L1337,107L1343,117L1336,123L1328,114L1343,117"/>
<path d="M1454,109L1449,118L1458,124L1463,115L1454,109M1449,118L1456,115L1463,115"/>
<path d="M1197,162L1188,165L1193,177L1204,169L1197,162M1188,165L1190,189L1198,193L1205,185L1204,169M1193,177L1205,185L1190,189L1193,177"/>
<path d="M1293,175L1281,182L1289,192L1300,198L1309,195L1303,183L1293,175M1303,183L1312,178M1303,183L1303,193L1289,192M1303,183L1300,198"/>
<path d="M1494,152L1497,159L1507,164L1502,173L1492,169L1497,159M1499,165L1502,173L1507,182M1492,169L1499,165L1507,164"/>
<path d="M1392,175L1407,179L1412,171M1392,175L1383,183L1378,193L1385,207L1390,223L1403,218L1419,218L1429,211L1434,199L1424,190L1407,179L1397,192L1392,175M1383,183L1397,192L1378,193M1397,192L1415,193L1407,179M1415,193L1424,190M1397,192L1385,207L1403,200L1397,192M1403,200L1416,203L1415,193M1416,203L1429,211M1416,203L1434,199M1403,200L1403,218L1416,203M1385,207L1403,218M1419,218L1416,203"/>
<path d="M1290,235L1303,237L1313,242L1310,250L1298,250L1287,244L1290,235L1298,250L1303,237L1310,250"/>
<path d="M1218,244L1218,254L1231,260L1232,276L1243,283L1243,291L1228,294L1218,304L1204,311L1193,319L1187,326L1184,335M1218,254L1208,273L1187,273L1173,275L1168,287L1172,298L1183,307L1204,311M1208,273L1232,276M1231,260L1208,273M1173,275L1184,287L1187,273M1168,287L1184,287L1207,290L1208,273M1184,287L1172,298M1184,287L1183,307L1207,290L1204,311M1207,290L1228,294L1232,276L1207,290M1218,304L1207,290M1243,283L1228,294M1183,307L1193,319"/>
<path d="M1326,298L1342,305L1357,304L1373,306L1388,301L1393,309L1383,320L1384,338L1369,351L1356,363L1343,368L1326,364L1309,365L1298,359L1294,347L1304,336L1320,318L1326,298M1320,318L1342,305L1354,320L1357,304M1354,320L1373,306L1383,320L1354,320L1331,335L1320,318M1304,336L1331,335L1312,349L1304,336M1294,347L1312,349L1298,359M1312,349L1326,364L1346,351L1312,349M1331,335L1346,351L1362,337L1354,320M1362,337L1384,338M1362,337L1383,320M1362,337L1369,351L1346,351L1356,363M1346,351L1343,368M1331,335L1362,337M1309,365L1312,349"/>
<path d="M1498,233L1487,244L1473,250L1466,260L1465,272L1477,277L1489,275L1501,266L1515,263L1518,255L1507,248L1498,233M1507,248L1487,244L1481,263L1473,250M1481,263L1466,260M1481,263L1465,272M1481,263L1477,277M1481,263L1501,266L1507,248M1489,275L1481,263M1507,248L1515,263"/>
<path d="M1490,322L1481,325L1485,336L1497,330L1490,322M1481,325L1497,330L1500,340L1493,347L1485,336L1500,340M1493,347L1492,356"/>
<path d="M1429,357L1438,360L1435,369L1425,367L1429,357L1435,369L1438,378"/>
<path d="M1208,376L1216,374L1227,370L1235,371"/>
<path d="M1248,409L1256,410L1264,413"/>
<path d="M1327,415L1321,424L1330,429L1336,421L1327,415L1330,429"/>
</g>
<g id="p4-nodes" class="n">
<g id="p4-small1"><circle cx="1357" cy="59"/><circle cx="1368" cy="62"/><circle cx="1354" cy="68"/><circle cx="1365" cy="73"/></g>
<g id="p4-spy"><circle cx="1259" cy="94"/><circle cx="1267" cy="92"/><circle cx="1274" cy="101"/><circle cx="1261" cy="108"/><circle cx="1276" cy="113"/><circle cx="1240" cy="123"/><circle cx="1250" cy="125"/><circle cx="1261" cy="124"/><circle cx="1272" cy="123"/><circle cx="1245" cy="133"/></g>
<g id="p4-small2"><circle cx="1329" cy="98"/><circle cx="1321" cy="104"/><circle cx="1337" cy="107"/><circle cx="1328" cy="114"/><circle cx="1343" cy="117"/><circle cx="1336" cy="123"/></g>
<g id="p4-small3"><circle cx="1454" cy="109"/><circle cx="1449" cy="118"/><circle cx="1463" cy="115"/><circle cx="1458" cy="124"/><circle cx="1456" cy="115"/></g>
<g id="p4-sms"><circle cx="1197" cy="162"/><circle cx="1188" cy="165"/><circle cx="1204" cy="169"/><circle cx="1193" cy="177"/><circle cx="1205" cy="185"/><circle cx="1190" cy="189"/><circle cx="1198" cy="193"/></g>
<g id="p4-dropper"><circle cx="1293" cy="175"/><circle cx="1281" cy="182"/><circle cx="1303" cy="183"/><circle cx="1312" cy="178"/><circle cx="1289" cy="192"/><circle cx="1303" cy="193"/><circle cx="1309" cy="195"/><circle cx="1300" cy="198"/></g>
<g id="p4-pua"><circle cx="1494" cy="152"/><circle cx="1497" cy="159"/><circle cx="1507" cy="164"/><circle cx="1492" cy="169"/><circle cx="1502" cy="173"/><circle cx="1507" cy="182"/><circle cx="1499" cy="165"/></g>
<g id="p4-zeroday"><circle cx="1392" cy="175"/><circle cx="1407" cy="179"/><circle cx="1412" cy="171"/><circle cx="1383" cy="183"/><circle cx="1397" cy="192"/><circle cx="1415" cy="193"/><circle cx="1424" cy="190"/><circle cx="1434" cy="199"/><circle cx="1378" cy="193"/><circle cx="1385" cy="207"/><circle cx="1403" cy="200"/><circle cx="1416" cy="203"/><circle cx="1429" cy="211"/><circle cx="1403" cy="218"/><circle cx="1390" cy="223"/><circle cx="1419" cy="218"/></g>
<g id="p4-small4"><circle cx="1290" cy="235"/><circle cx="1303" cy="237"/><circle cx="1313" cy="242"/><circle cx="1287" cy="244"/><circle cx="1298" cy="250"/><circle cx="1310" cy="250"/></g>
<g id="p4-adware"><circle cx="1218" cy="244"/><circle cx="1218" cy="254"/><circle cx="1231" cy="260"/><circle cx="1173" cy="275"/><circle cx="1187" cy="273"/><circle cx="1208" cy="273"/><circle cx="1232" cy="276"/><circle cx="1243" cy="283"/><circle cx="1168" cy="287"/><circle cx="1184" cy="287"/><circle cx="1207" cy="290"/><circle cx="1228" cy="294"/><circle cx="1243" cy="291"/><circle cx="1172" cy="298"/><circle cx="1183" cy="307"/><circle cx="1204" cy="311"/><circle cx="1218" cy="304"/><circle cx="1193" cy="319"/><circle cx="1187" cy="326"/><circle cx="1184" cy="335"/></g>
<g id="p4-riskware"><circle cx="1326" cy="298"/><circle cx="1342" cy="305"/><circle cx="1357" cy="304"/><circle cx="1373" cy="306"/><circle cx="1388" cy="301"/><circle cx="1393" cy="309"/><circle cx="1320" cy="318"/><circle cx="1354" cy="320"/><circle cx="1383" cy="320"/><circle cx="1304" cy="336"/><circle cx="1331" cy="335"/><circle cx="1362" cy="337"/><circle cx="1384" cy="338"/><circle cx="1294" cy="347"/><circle cx="1312" cy="349"/><circle cx="1346" cy="351"/><circle cx="1369" cy="351"/><circle cx="1298" cy="359"/><circle cx="1326" cy="364"/><circle cx="1309" cy="365"/><circle cx="1343" cy="368"/><circle cx="1356" cy="363"/></g>
<g id="p4-ransomware"><circle cx="1498" cy="233"/><circle cx="1487" cy="244"/><circle cx="1507" cy="248"/><circle cx="1473" cy="250"/><circle cx="1518" cy="255"/><circle cx="1466" cy="260"/><circle cx="1481" cy="263"/><circle cx="1501" cy="266"/><circle cx="1515" cy="263"/><circle cx="1465" cy="272"/><circle cx="1477" cy="277"/><circle cx="1489" cy="275"/></g>
<g id="p4-nocateg"><circle cx="1490" cy="322"/><circle cx="1481" cy="325"/><circle cx="1497" cy="330"/><circle cx="1485" cy="336"/><circle cx="1500" cy="340"/><circle cx="1493" cy="347"/><circle cx="1492" cy="356"/></g>
<g id="p4-small5"><circle cx="1429" cy="357"/><circle cx="1438" cy="360"/><circle cx="1425" cy="367"/><circle cx="1435" cy="369"/><circle cx="1438" cy="378"/></g>
<g id="p4-line1"><circle cx="1208" cy="376"/><circle cx="1216" cy="374"/><circle cx="1227" cy="370"/><circle cx="1235" cy="371"/></g>
<g id="p4-line2"><circle cx="1248" cy="409"/><circle cx="1256" cy="410"/><circle cx="1264" cy="413"/></g>
<g id="p4-small6"><circle cx="1327" cy="415"/><circle cx="1321" cy="424"/><circle cx="1336" cy="421"/><circle cx="1330" cy="429"/></g>
<g id="p4-singles"><circle cx="1431" cy="76"/><circle cx="1408" cy="87"/><circle cx="1185" cy="123"/><circle cx="1387" cy="122"/><circle cx="1396" cy="121"/><circle cx="1404" cy="122"/><circle cx="1383" cy="261"/><circle cx="1388" cy="413"/><circle cx="1424" cy="418"/><circle cx="1461" cy="405"/><circle cx="1399" cy="434"/><circle cx="1292" cy="439"/><circle cx="1363" cy="442"/></g>
</g>
<g id="p4-labels">
<text class="l" transform="translate(1271,78)" y="6">(e) Trojan-Spy</text>
<text class="l" transform="translate(1205,150) rotate(8)" y="6">(f) Trojan-SMS</text>
<text class="l" transform="translate(1305,142) rotate(-3)" y="6">(g) Trojan-</text>
<text class="l" transform="translate(1299,163) rotate(-3)" y="6">Dropper</text>
<text class="l" transform="translate(1408,158)" y="6">(c) Zero-day</text>
<text class="l" transform="translate(1487,138) rotate(-40)" y="6">(i) PUA</text>
<text class="l" transform="translate(1177,270) rotate(-32)" y="6">(b) Adware</text>
<text class="l" transform="translate(1362,284)" y="6">(a) Riskware</text>
<text class="l" transform="translate(1472,236) rotate(-28)" y="6">(d) Ransomware</text>
<text class="l" transform="translate(1476,335) rotate(-98)" y="6">(h) No Categ.</text>
</g>

<!-- ================= PANEL 5 : alpha=1 ================= -->
<g id="p5-field">
<path d="M1583,62L1833,62C1880,64 1920,95 1940,140C1955,180 1957,270 1950,320C1945,380 1925,430 1893,449L1598,449C1560,430 1540,400 1540,360L1540,140C1545,100 1560,70 1583,62Z" fill="url(#pA)"/>
<path d="M1583,62L1833,62C1880,64 1920,95 1940,140C1955,180 1957,270 1950,320C1945,380 1925,430 1893,449L1598,449C1560,430 1540,400 1540,360L1540,140C1545,100 1560,70 1583,62Z" fill="url(#pB)"/>
<g class="d">
<circle cx="1695" cy="85"/><circle cx="1699" cy="87"/><circle cx="1696" cy="89"/>
<circle cx="1739" cy="70"/><circle cx="1742" cy="70"/><circle cx="1739" cy="74"/><circle cx="1742" cy="74"/>
<circle cx="1784" cy="142"/><circle cx="1787" cy="142"/><circle cx="1784" cy="146"/><circle cx="1787" cy="146"/>
<circle cx="1608" cy="289"/><circle cx="1613" cy="285"/><circle cx="1609" cy="294"/><circle cx="1613" cy="293"/>
<circle cx="1753" cy="295"/><circle cx="1757" cy="295"/><circle cx="1752" cy="302"/><circle cx="1750" cy="305"/><circle cx="1754" cy="305"/>
<circle cx="1713" cy="320"/><circle cx="1717" cy="320"/><circle cx="1713" cy="325"/><circle cx="1717" cy="325"/>
<circle cx="1830" cy="255"/><circle cx="1833" cy="259"/><circle cx="1827" cy="263"/><circle cx="1832" cy="263"/>
<circle cx="1745" cy="369"/><circle cx="1748" cy="371"/><circle cx="1742" cy="380"/><circle cx="1747" cy="378"/><circle cx="1750" cy="384"/>
<circle cx="1823" cy="369"/><circle cx="1827" cy="370"/><circle cx="1823" cy="374"/><circle cx="1826" cy="375"/>
<circle cx="1806" cy="270"/><circle cx="1809" cy="271"/><circle cx="1805" cy="275"/><circle cx="1808" cy="275"/><circle cx="1809" cy="280"/>
<circle cx="1793" cy="207"/><circle cx="1796" cy="210"/><circle cx="1793" cy="211"/>
<circle cx="1725" cy="192"/><circle cx="1728" cy="196"/><circle cx="1727" cy="200"/>
<circle cx="1680" cy="198"/><circle cx="1683" cy="195"/>
<circle cx="1712" cy="163"/><circle cx="1715" cy="165"/><circle cx="1712" cy="167"/>
</g>
</g>
</svg>
